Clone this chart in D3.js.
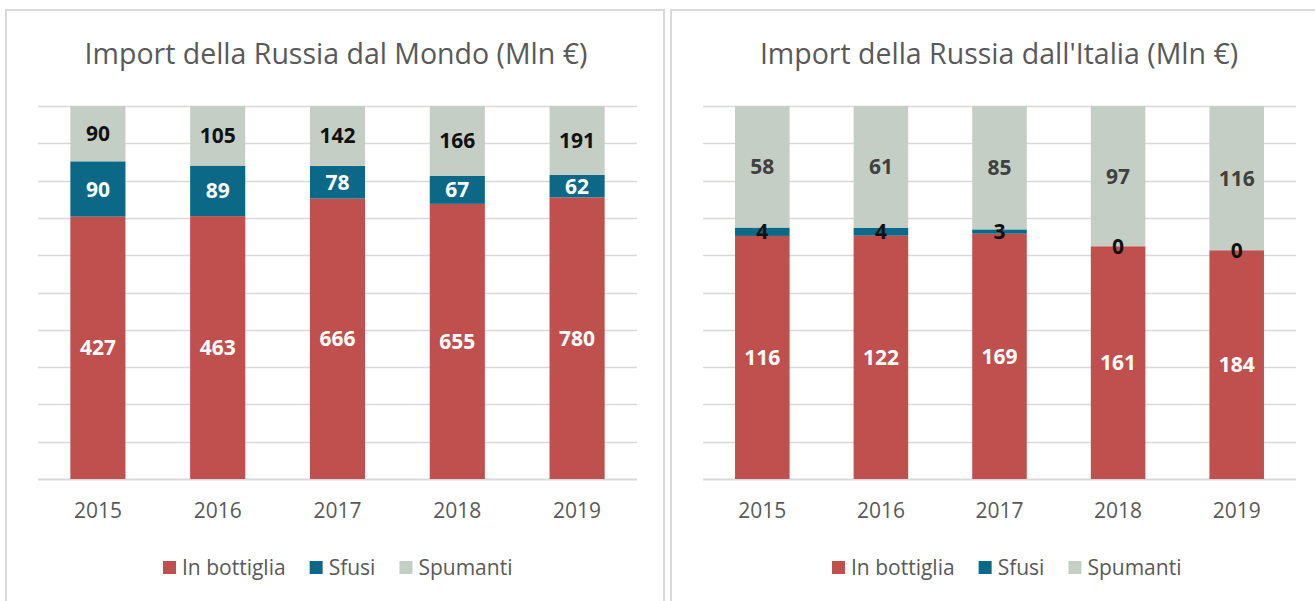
<!DOCTYPE html>
<html><head><meta charset="utf-8">
<script src="https://cdn.jsdelivr.net/npm/d3@7"></script>
<style>body{margin:0;background:#fff}svg{display:block}</style>
</head><body>
<svg id="c" width="1315" height="601"></svg>
<script>
const years = ["2015","2016","2017","2018","2019"];
const seriesNames = ["In bottiglia","Sfusi","Spumanti"];
const mondoBottiglia = [427,463,666,655,780];
const mondoSfusi = [90,89,78,67,62];
const mondoSpumanti = [90,105,142,166,191];
const italiaBottiglia = [116,122,169,161,184];
const italiaSfusi = [4,4,3,0,0];
const italiaSpumanti = [58,61,85,97,116];
const titles = ["Import della Russia dal Mondo (Mln €)","Import della Russia dall'Italia (Mln €)"];
const colors = ["#C0504D","#0B6886","#C4CEC4"];

const svg = d3.select("#c");
const FONT = "'Open Sans', sans-serif";

const panels = [
  {title: titles[0], data:[mondoBottiglia,mondoSfusi,mondoSpumanti], box:[6,10,658,600], plot:[38,637], titleX:336,
   labelColors:["#fff","#fff","#111"], legendX:163},
  {title: titles[1], data:[italiaBottiglia,italiaSfusi,italiaSpumanti], box:[671,10,650,600], plot:[703,1296], titleX:999,
   labelColors:["#fff","#111","#404040"], legendX:832}
];

const y = d3.scaleLinear().domain([0,1]).range([479,106]);

panels.forEach(p=>{
  const g = svg.append("g");
  g.append("rect").attr("x",p.box[0]).attr("y",p.box[1]).attr("width",p.box[2]).attr("height",p.box[3])
    .attr("fill","#fff").attr("stroke","#d9d9d9").attr("stroke-width",2);
  g.append("text").attr("x",p.titleX).attr("y",64).attr("text-anchor","middle")
    .attr("font-family",FONT).attr("font-size",28.5).attr("fill","#595959").text(p.title);

  const x = d3.scaleBand().domain(years).range(p.plot).paddingInner(0.54).paddingOuter(0.27);
  g.append("g").selectAll("line").data(d3.range(0,1.0001,0.1)).join("line")
    .attr("x1",p.plot[0]).attr("x2",p.plot[1])
    .attr("y1",d=>Math.round(y(d))+0.5).attr("y2",d=>Math.round(y(d))+0.5)
    .attr("stroke","#d9d9d9").attr("stroke-width",d=>d===0?2:1.5);

  const rows = years.map((yr,i)=>{
    const o={year:yr};
    const tot = p.data[0][i]+p.data[1][i]+p.data[2][i];
    seriesNames.forEach((s,k)=>o[s]=p.data[k][i]/tot);
    o.raw = p.data.map(a=>a[i]);
    return o;
  });
  const stack = d3.stack().keys(seriesNames)(rows);
  stack.forEach((layer,k)=>{
    g.append("g").selectAll("rect").data(layer).join("rect")
      .attr("x",d=>x(d.data.year)).attr("width",x.bandwidth())
      .attr("y",d=>y(d[1])).attr("height",d=>y(d[0])-y(d[1]))
      .attr("fill",colors[k]);
  });
  stack.forEach((layer,k)=>{
    g.append("g").selectAll("text").data(layer).join("text")
      .attr("x",d=>x(d.data.year)+x.bandwidth()/2)
      .attr("y",d=>(y(d[0])+y(d[1]))/2)
      .attr("dy","0.36em").attr("text-anchor","middle")
      .attr("font-family",FONT).attr("font-weight","bold").attr("font-size",21)
      .attr("fill",p.labelColors[k])
      .text(d=>d.data.raw[k]);
  });
  const ax = g.append("g").attr("transform","translate(0,479)")
    .call(d3.axisBottom(x).tickSize(0).tickPadding(24));
  ax.select(".domain").remove();
  ax.selectAll("text").attr("font-family",FONT).attr("font-size",21).attr("fill","#595959");

  const lg = g.append("g").attr("transform",`translate(${p.legendX},567)`);
  let cx = 0;
  seriesNames.forEach((s,k)=>{
    const it = lg.append("g").attr("transform",`translate(${cx},0)`);
    it.append("rect").attr("x",0).attr("y",-6).attr("width",13).attr("height",13).attr("fill",colors[k]);
    const t = it.append("text").attr("x",19).attr("dy","0.36em").attr("font-family",FONT)
      .attr("font-size",21).attr("fill","#595959").text(s);
    cx += 19 + t.node().getComputedTextLength() + 24;
  });
});
</script>
</body></html>
